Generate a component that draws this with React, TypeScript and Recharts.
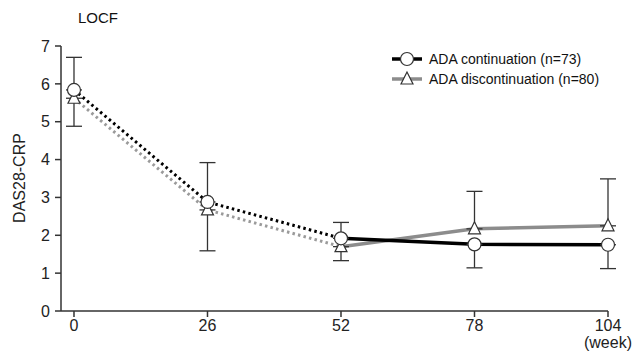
import { LineChart, Line, XAxis, YAxis, ErrorBar } from 'recharts';

const weeks = [0, 26, 52, 78, 104];
const contMean = [5.84, 2.88, 1.92, 1.76, 1.75];
const discMean = [5.62, 2.67, 1.7, 2.17, 2.25];
const contLowerSd = [0.96, 1.29, 0.59, 0.62, 0.63];
const discUpperSd = [1.08, 1.25, 0.64, 0.99, 1.24];
const yTicks = [0, 1, 2, 3, 4, 5, 6, 7];
const seriesNames = ['ADA continuation (n=73)', 'ADA discontinuation (n=80)'];

const data = weeks.map((week, i) => ({
  week,
  cont: contMean[i],
  disc: discMean[i],
  contEarly: i <= 2 ? contMean[i] : null,
  contLate: i >= 2 ? contMean[i] : null,
  discEarly: i <= 2 ? discMean[i] : null,
  discLate: i >= 2 ? discMean[i] : null,
  contErr: [contLowerSd[i], 0],
  discErr: [0, discUpperSd[i]],
}));

const FONT = '"Liberation Sans", Arial, sans-serif';

const CircleDot = (props: any) => {
  const { cx, cy } = props;
  if (cx == null || cy == null) return null;
  return <circle cx={cx} cy={cy} r={6.5} fill="#fff" stroke="#333" strokeWidth={1.2} />;
};

const TriangleDot = (props: any) => {
  const { cx, cy } = props;
  if (cx == null || cy == null) return null;
  return (
    <polygon
      points={`${cx},${cy - 7} ${cx - 6},${cy + 5} ${cx + 6},${cy + 5}`}
      fill="#fff"
      stroke="#333"
      strokeWidth={1.2}
    />
  );
};

const WeekTick = (props: any) => {
  const { x, y, payload } = props;
  return (
    <text x={x} y={y} fill="#222" fontSize={16} fontFamily={FONT} textAnchor="middle">
      <tspan x={x} dy="0.75em">{payload.value}</tspan>
      {payload.value === 104 && <tspan x={x} dy="1.05em">(week)</tspan>}
    </text>
  );
};

const LegendBox = () => (
  <div style={{ fontFamily: FONT, fontSize: 14, color: '#111', lineHeight: '20px' }}>
    {seriesNames.map((name, i) => (
      <div key={name} style={{ display: 'flex', alignItems: 'center' }}>
        <svg width={36} height={20}>
          <line x1={2} y1={10} x2={32} y2={10} stroke={i === 0 ? '#000' : '#8c8c8c'} strokeWidth={3.5} />
          {i === 0 ? (
            <circle cx={17} cy={10} r={6.5} fill="#fff" stroke="#333" strokeWidth={1.2} />
          ) : (
            <polygon points="17,3 11,15 23,15" fill="#fff" stroke="#333" strokeWidth={1.2} />
          )}
        </svg>
        <span style={{ marginLeft: 3 }}>{name}</span>
      </div>
    ))}
  </div>
);

export default function App() {
  return (
    <div style={{ position: 'absolute', left: 0, top: 0, width: 633, height: 352, background: '#fff' }}>
      <div style={{ position: 'absolute', left: 78, top: 9, fontFamily: FONT, fontSize: 15, color: '#111' }}>LOCF</div>
      <div style={{ position: 'absolute', left: 390, top: 49, zIndex: 2 }}>
        <LegendBox />
      </div>
      <LineChart width={633} height={352} data={data} margin={{ top: 46, right: 25, bottom: 0, left: 0 }}>
        <XAxis
          dataKey="week"
          type="number"
          domain={[-2.53, 104]}
          ticks={weeks}
          stroke="#333"
          strokeWidth={1.5}
          tickSize={6}
          tickLine={{ stroke: '#333', strokeWidth: 1.5 }}
          tick={<WeekTick />}
          height={41}
        />
        <YAxis
          type="number"
          domain={[0, 7]}
          ticks={yTicks}
          width={61}
          stroke="#333"
          strokeWidth={1.5}
          tickSize={6}
          tickMargin={5}
          tickLine={{ stroke: '#333', strokeWidth: 1.5 }}
          tick={{ fill: '#222', fontSize: 16, fontFamily: FONT }}
          label={{
            content: () => (
              <text
                x={19}
                y={178}
                transform="rotate(-90 19 178)"
                textAnchor="middle"
                dominantBaseline="central"
                fontSize={16}
                fontFamily={FONT}
                fill="#222"
              >
                DAS28-CRP
              </text>
            ),
          }}
        />
        <Line dataKey="discEarly" stroke="#9a9a9a" strokeWidth={3} strokeDasharray="2.5 3.2" dot={false} isAnimationActive={false} />
        <Line dataKey="contEarly" stroke="#000" strokeWidth={3} strokeDasharray="2.5 3.2" dot={false} isAnimationActive={false} />
        <Line dataKey="discLate" stroke="#8c8c8c" strokeWidth={3.5} dot={false} isAnimationActive={false} />
        <Line dataKey="contLate" stroke="#000" strokeWidth={3.5} dot={false} isAnimationActive={false} />
        <Line dataKey="disc" stroke="none" dot={<TriangleDot />} activeDot={false} isAnimationActive={false}>
          <ErrorBar dataKey="discErr" width={8} stroke="#333" strokeWidth={1.3} direction="y" />
        </Line>
        <Line dataKey="cont" stroke="none" dot={<CircleDot />} activeDot={false} isAnimationActive={false}>
          <ErrorBar dataKey="contErr" width={8} stroke="#333" strokeWidth={1.3} direction="y" />
        </Line>
      </LineChart>
    </div>
  );
}
